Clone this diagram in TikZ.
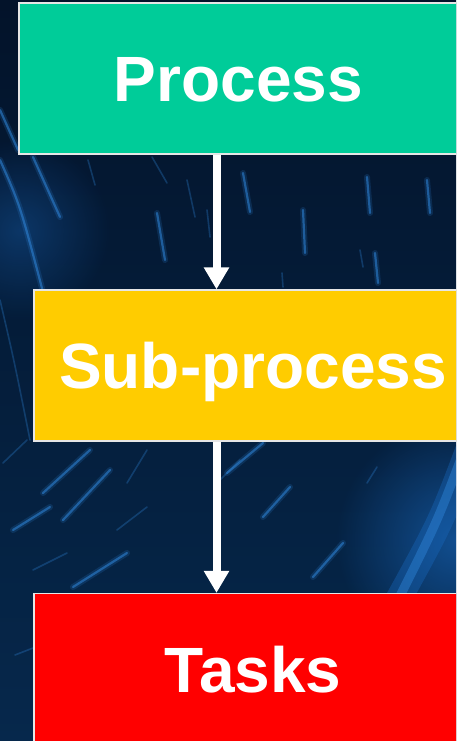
\documentclass[tikz,border=0pt]{standalone}
\usepackage{fontspec}
\setmainfont{Liberation Sans}
\usetikzlibrary{arrows.meta,fadings}

\definecolor{skytop}{HTML}{03132A}
\definecolor{skybot}{HTML}{06284C}
\definecolor{trail}{HTML}{2F86DA}
\definecolor{glowblue}{HTML}{1A6CC4}
\definecolor{procfill}{HTML}{00CC99}
\definecolor{subfill}{HTML}{FFCC00}
\definecolor{taskfill}{HTML}{FF0000}
\definecolor{rim}{HTML}{E6E6E6}

\tikzfading[name=softglow, inner color=transparent!0, outer color=transparent!100]

\tikzset{
  stagebox/.style={draw=rim, line width=1.2pt, inner sep=0pt,
    minimum width=438pt, minimum height=151pt,
    text=white, font=\bfseries\fontsize{64}{77}\selectfont,
    text height=46.5pt, text depth=0pt},
  flow/.style={draw=white, line width=8pt,
    -{Triangle[width=24pt,length=22pt]}},
  halo/.style={trail, line cap=round, line width=6pt, opacity=0.18},
  trailline/.style={trail, line cap=round, line width=2.2pt, opacity=0.55},
  faint/.style={trail, line cap=round, line width=1.6pt, opacity=0.3},
}

\begin{document}
\begin{tikzpicture}[x=1pt,y=-1pt]
  \useasboundingbox (0,0) rectangle (456,741);
  \clip (0,0) rectangle (456,741);

  % night sky
  \shade[top color=skytop, bottom color=skybot] (0,0) rectangle (456,741);
  \fill[glowblue, opacity=0.35, path fading=softglow] (20,230) circle (90);
  \fill[glowblue, opacity=0.6, path fading=softglow] (456,540) circle (120);

  % star trails, upper gap
  \foreach \a/\b in {{(0,110)}/{(18,150)}, {(33,157)}/{(60,217)},
      {(157,213)}/{(165,260)}, {(243,173)}/{(250,212)},
      {(303,210)}/{(305,253)}, {(367,177)}/{(370,213)},
      {(427,180)}/{(430,213)}, {(375,253)}/{(378,283)}}
    {\draw[halo] \a -- \b; \draw[trailline] \a -- \b;}
  \draw[halo] (0,160) .. controls (20,205) .. (43,292);
  \draw[trailline] (0,160) .. controls (20,205) .. (43,292);
  \draw[faint] (0,300) .. controls (14,360) .. (30,440);
  \foreach \a/\b in {{(88,160)}/{(95,185)}, {(152,157)}/{(167,183)},
      {(187,180)}/{(195,217)}, {(207,210)}/{(210,237)},
      {(360,250)}/{(363,267)}, {(282,273)}/{(283,287)}}
    {\draw[faint] \a -- \b;}

  % star trails, lower gap
  \foreach \a/\b in {{(43,493)}/{(90,450)}, {(63,520)}/{(110,470)},
      {(13,530)}/{(50,507)}, {(73,587)}/{(127,553)},
      {(227,473)}/{(263,443)}, {(263,517)}/{(290,487)},
      {(313,577)}/{(343,543)}}
    {\draw[halo] \a -- \b; \draw[trailline] \a -- \b;}
  \foreach \a/\b in {{(3,463)}/{(27,440)}, {(33,570)}/{(67,553)},
      {(117,530)}/{(147,507)}, {(127,483)}/{(147,450)},
      {(220,480)}/{(240,460)}, {(367,483)}/{(377,467)},
      {(15,655)}/{(33,648)}}
    {\draw[faint] \a -- \b;}
  \draw[glowblue, line width=26pt, opacity=0.35, line cap=round]
    (472,440) .. controls (442,520) .. (398,600);
  \draw[trail, line width=9pt, opacity=0.45, line cap=round]
    (466,445) .. controls (438,520) .. (400,596);

  % stages
  \node[stagebox, fill=procfill, minimum width=439pt] (proc) at (238.5,78.5) {Process};
  \node[stagebox, fill=subfill] (sub) at (253,365.5) {Sub-process};
  \node[stagebox, fill=taskfill] (tasks) at (253,669) {Tasks};

  % flow arrows
  \coordinate (ax) at (216.5,0);
  \draw[flow] (proc.south -| ax) -- (sub.north -| ax);
  \draw[flow] (sub.south -| ax) -- (tasks.north -| ax);
\end{tikzpicture}
\end{document}
